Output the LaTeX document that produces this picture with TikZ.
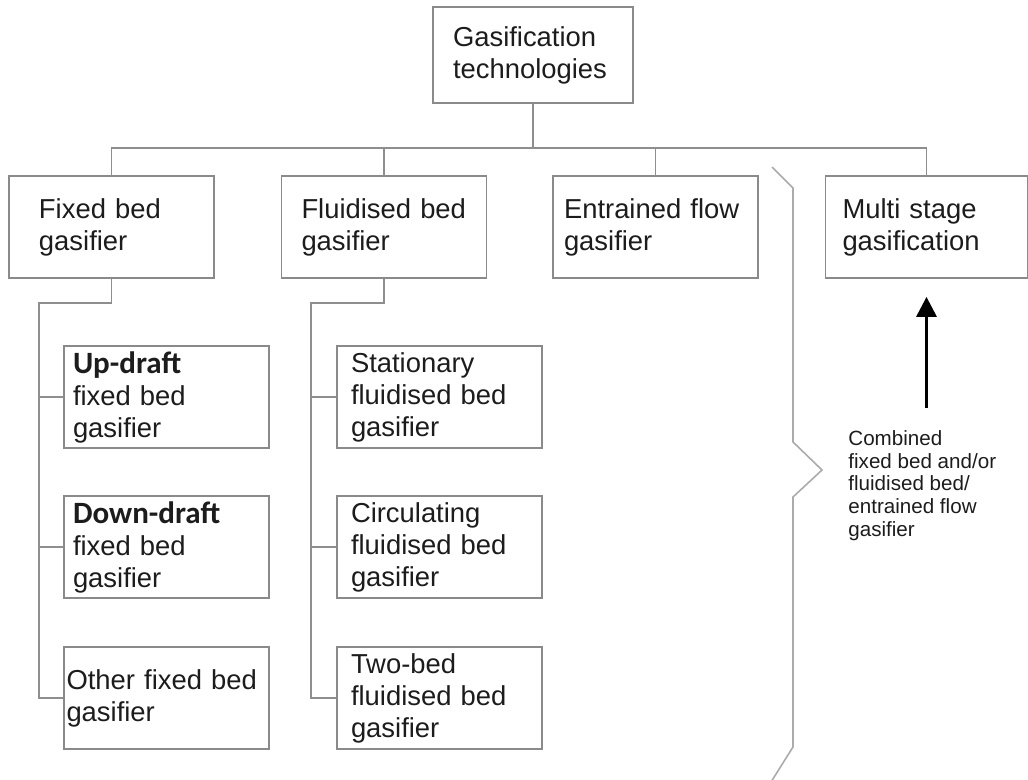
\documentclass[tikz,border=0pt]{standalone}
\usepackage{fontspec}
\setmainfont{Liberation Sans}
\newfontfamily\calfont{Carlito}
\usetikzlibrary{arrows.meta, positioning}
\definecolor{boxgray}{HTML}{8A8A8A}
\definecolor{linegray}{HTML}{8E8E8E}
\definecolor{bracegray}{HTML}{ABABAB}
\definecolor{inkblack}{HTML}{1C1C1C}
\tikzset{
  gbox/.code={\pgfmathsetlengthmacro\gboxtw{102.5pt-2*#1}%
    \tikzset{rectangle, draw=boxgray, line width=0.9pt, minimum width=102.5pt,
      minimum height=51pt, inner xsep=#1, inner ysep=0pt, text width=\gboxtw,
      align=left, text=inkblack, font=\fontsize{13.7}{16}\selectfont}},
  conn/.style={draw=linegray, line width=0.8pt},
  bigarrow/.style={draw=black, line width=1.6pt, -{Triangle[length=10pt,width=10pt]}},
  notetext/.style={inner sep=0pt, align=left, text=inkblack, font=\fontsize{10.3}{11.4}\selectfont},
}
\newcommand{\draftword}[1]{{\calfont\bfseries\fontsize{15.5}{16}\selectfont #1}}

\begin{document}
\begin{tikzpicture}[x=0.5pt, y=-0.5pt]
\useasboundingbox (0,0) rectangle (1028,780);
% Top
\node (tech) [gbox=10pt, minimum width=100pt, minimum height=48pt, text width=80pt] at (533,55) {Gasification\\technologies};

% Row 1
\node (fixed) [gbox=15pt] at (111.5,227) {Fixed bed\\gasifier};
\node (fluid) [gbox=10pt] at (384,227) {Fluidised bed\\gasifier};
\node (entrained) [gbox=5.5pt] at (655.5,227) {Entrained flow\\gasifier};
\node (multi) [gbox=8.5pt, minimum width=101pt, text width=84pt] at (926.5,227) {Multi stage\\gasification};

% Fixed bed column
\node (updraft) [gbox=4.5pt] at (166.5,397) {\draftword{Up-draft}\\fixed bed\\gasifier};
\node (downdraft) [gbox=4.5pt] at (166.5,547) {\draftword{Down-draft}\\fixed bed\\gasifier};
\node (otherfixed) [gbox=1.25pt] at (166.5,698) {Other fixed bed\\gasifier};

% Fluidised bed column
\node (stationary) [gbox=7pt] at (439.5,397) {Stationary\\fluidised bed\\gasifier};
\node (circulating) [gbox=7pt] at (439.5,547) {Circulating\\fluidised bed\\gasifier};
\node (twobed) [gbox=7pt] at (439.5,698) {Two-bed\\fluidised bed\\gasifier};

% Note under multi stage
\node (combined) [notetext, anchor=north west] at (848,430) {Combined\\fixed bed and/or\\fluidised bed/\\entrained flow\\gasifier};

\coordinate (bus) at (533,148);
\coordinate (fixbus) at (39,303);
\coordinate (fluidbus) at (311,303);

% Draw lines
\draw [conn] (tech) -- (bus);
\draw [conn] (fixed.north) |- (bus) -| (multi.north);
\draw [conn] (fluid.north) -- (fluid.north |- bus);
\draw [conn] (entrained.north) -- (entrained.north |- bus);
\draw [conn] (fixed.south) |- (fixbus) |- (otherfixed.west);
\draw [conn] (updraft.west) -- (updraft.west -| fixbus);
\draw [conn] (downdraft.west) -- (downdraft.west -| fixbus);
\draw [conn] (fluid.south) |- (fluidbus) |- (twobed.west);
\draw [conn] (stationary.west) -- (stationary.west -| fluidbus);
\draw [conn] (circulating.west) -- (circulating.west -| fluidbus);

% Arrow and brace
\draw [bigarrow, shorten <=11pt, shorten >=9pt] (multi.south |- combined.north) -- (multi.south);
\draw [bracegray, line width=0.8pt] (772,167) -- (793,188) -- (793,442) -- (822,470) -- (793,497) -- (793,747) -- (771,782);

\end{tikzpicture}
\end{document}
